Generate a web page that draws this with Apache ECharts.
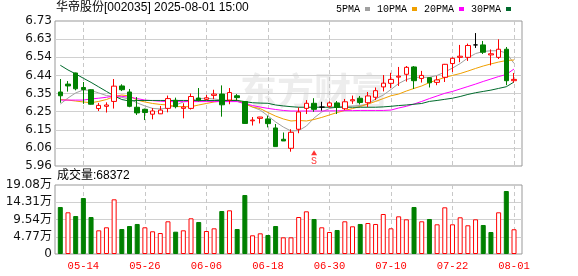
<!DOCTYPE html>
<html>
<head>
<meta charset="utf-8">
<script src="https://cdn.jsdelivr.net/npm/echarts@6/dist/echarts.min.js"></script>
<style>html,body{margin:0;padding:0;background:#fff}#c{width:578px;height:276px}</style>
</head>
<body>
<div id="c"></div>
<script>
const dates = ['05-09','05-12','05-13','05-14','05-15','05-16','05-19','05-20','05-21','05-22','05-23','05-26','05-27','05-28','05-29','05-30','06-03','06-04','06-05','06-06','06-09','06-10','06-11','06-12','06-13','06-16','06-17','06-18','06-19','06-20','06-23','06-24','06-25','06-26','06-27','06-30','07-01','07-02','07-03','07-04','07-07','07-08','07-09','07-10','07-11','07-14','07-15','07-16','07-17','07-18','07-21','07-22','07-23','07-24','07-25','07-28','07-29','07-30','07-31','08-01'];
const openP  = [6.353,6.395,6.454,6.377,6.365,6.265,6.277,6.303,6.385,6.353,6.272,6.261,6.235,6.237,6.266,6.309,6.266,6.266,6.321,6.314,6.335,6.342,6.310,6.333,6.302,6.200,6.213,6.210,6.162,6.102,6.054,6.155,6.266,6.293,6.273,6.277,6.295,6.264,6.306,6.320,6.296,6.325,6.380,6.399,6.432,6.447,6.486,6.425,6.429,6.404,6.431,6.504,6.537,6.537,6.603,6.603,6.550,6.537,6.580,6.413];
const closeP = [6.333,6.385,6.370,6.366,6.288,6.282,6.284,6.384,6.365,6.277,6.242,6.244,6.252,6.257,6.318,6.275,6.273,6.329,6.307,6.322,6.342,6.285,6.350,6.323,6.186,6.204,6.220,6.185,6.063,6.093,6.139,6.247,6.293,6.261,6.273,6.295,6.271,6.301,6.312,6.297,6.332,6.360,6.400,6.420,6.437,6.484,6.413,6.441,6.402,6.417,6.500,6.532,6.543,6.600,6.603,6.564,6.556,6.580,6.413,6.420];
const lowP   = [6.296,6.355,6.362,6.290,6.286,6.252,6.244,6.265,6.358,6.272,6.231,6.204,6.208,6.236,6.245,6.266,6.213,6.260,6.303,6.310,6.315,6.222,6.288,6.310,6.183,6.175,6.186,6.165,6.063,6.093,6.036,6.134,6.236,6.248,6.254,6.270,6.236,6.257,6.290,6.287,6.273,6.310,6.356,6.373,6.385,6.408,6.369,6.403,6.377,6.389,6.406,6.459,6.511,6.518,6.587,6.555,6.494,6.528,6.389,6.403];
const highP  = [6.422,6.411,6.456,6.406,6.367,6.295,6.298,6.422,6.394,6.369,6.326,6.265,6.268,6.279,6.334,6.323,6.293,6.345,6.374,6.337,6.365,6.388,6.374,6.342,6.305,6.220,6.221,6.226,6.183,6.138,6.155,6.271,6.310,6.320,6.301,6.303,6.305,6.316,6.334,6.332,6.353,6.377,6.443,6.455,6.486,6.491,6.491,6.465,6.431,6.438,6.502,6.537,6.603,6.610,6.666,6.624,6.579,6.633,6.592,6.454];
const volumes = [130000,115300,105000,154800,102300,65500,73800,151200,69100,77400,83000,73800,62800,58000,90400,61700,65500,98700,88500,63600,71000,118900,120800,69100,163100,51700,57200,52500,77400,46100,46100,102300,118000,96800,73800,60800,66400,90400,76600,83000,85700,83000,110600,71000,104200,95900,130000,90400,96800,82100,129100,82100,101500,79400,95900,80200,60800,115300,174200,68372];
const volUp = [0,1,0,0,0,1,1,1,0,0,0,1,1,1,1,0,1,1,0,1,1,0,1,0,0,1,1,0,0,1,1,1,1,0,1,1,0,1,1,0,1,1,1,1,1,1,0,1,0,1,1,1,1,1,1,0,0,1,0,1];
const ma5  = [6.289,6.321,6.348,6.364,6.361,6.348,6.334,6.329,6.324,6.316,6.295,6.279,6.266,6.263,6.268,6.284,6.300,6.310,6.318,6.320,6.316,6.310,6.308,6.305,6.289,6.273,6.257,6.226,6.194,6.167,6.146,6.148,6.172,6.215,6.247,6.265,6.273,6.276,6.279,6.281,6.289,6.316,6.337,6.366,6.398,6.419,6.431,6.431,6.431,6.441,6.459,6.480,6.504,6.534,6.557,6.568,6.572,6.572,6.560,6.505];
const ma10 = [6.313,6.310,6.305,6.300,6.296,6.303,6.313,6.329,6.337,6.332,6.310,6.300,6.292,6.287,6.284,6.276,6.275,6.275,6.284,6.292,6.300,6.305,6.308,6.310,6.292,6.273,6.265,6.244,6.225,6.210,6.199,6.202,6.199,6.207,6.218,6.231,6.244,6.255,6.265,6.276,6.289,6.303,6.318,6.333,6.342,6.358,6.372,6.385,6.403,6.417,6.430,6.441,6.451,6.464,6.478,6.491,6.502,6.512,6.520,6.523];
const ma20 = [6.310,6.310,6.310,6.310,6.316,6.320,6.325,6.332,6.330,6.325,6.318,6.310,6.307,6.304,6.302,6.302,6.302,6.302,6.302,6.302,6.302,6.302,6.302,6.302,6.292,6.281,6.273,6.266,6.260,6.255,6.252,6.252,6.252,6.252,6.252,6.253,6.253,6.254,6.254,6.255,6.255,6.255,6.255,6.257,6.268,6.277,6.289,6.303,6.318,6.332,6.346,6.356,6.369,6.382,6.395,6.409,6.422,6.435,6.446,6.475];
const ma30 = [6.495,6.470,6.449,6.426,6.404,6.380,6.356,6.332,6.313,6.305,6.308,6.308,6.308,6.308,6.308,6.308,6.308,6.308,6.308,6.308,6.308,6.308,6.308,6.308,6.302,6.296,6.294,6.293,6.284,6.279,6.275,6.272,6.272,6.272,6.272,6.272,6.272,6.272,6.272,6.272,6.272,6.272,6.274,6.277,6.281,6.284,6.288,6.292,6.303,6.308,6.314,6.320,6.329,6.340,6.349,6.356,6.363,6.372,6.381,6.406];
const priceTickLabels = ['5.96','6.06','6.15','6.25','6.35','6.44','6.54','6.63','6.73'];
const volTickLabels = ['0','4.77万','9.54万','14.31万','19.08万'];
const dateTickLabels = ['05-14','05-26','06-06','06-18','06-30','07-10','07-22','08-01'];
const maNames = ['5PMA','10PMA','20PMA','30PMA'];
const maColors = ['#a0a0a0','#f0a000','#ff00ff','#006a2c'];
const signalDate = '06-26';
const signalPrice = 6.03;
const titleText = '华帝股份[002035] 2025-08-01 15:00';
const volText = '成交量:68372';

const RED = '#ff0000', GREEN = '#008000';
const candleData = dates.map((d, i) => {
  const v = [openP[i], closeP[i], lowP[i], highP[i]];
  if (openP[i] === closeP[i]) {
    return { value: v, itemStyle: { color: '#000', color0: '#000', borderColor: '#000', borderColor0: '#000' } };
  }
  return v;
});
const volData = volumes.map((v, i) => ({
  value: v,
  itemStyle: volUp[i] ? { color: '#fff', borderColor: RED, borderWidth: 1 } : { color: GREEN, borderColor: GREEN, borderWidth: 1 }
}));
const dateInterval = (idx) => dateTickLabels.indexOf(dates[idx]) >= 0;

const FL = 55, FW = 467;         // frame
const DL = 60.3, DW = 453.7;     // data (first to last candle centre)
const PT = 21, PH = 145, VT = 185, VH = 69;

const chart = echarts.init(document.getElementById('c'), null, { renderer: 'canvas' });
const maSeries = maNames.map((n, k) => ({
  name: n, type: 'line', xAxisIndex: 2, yAxisIndex: 2,
  data: [ma5, ma10, ma20, ma30][k], showSymbol: false, symbol: 'none', smooth: false,
  lineStyle: { width: 1, color: maColors[k] }, itemStyle: { color: maColors[k] },
  clip: false, z: 3, silent: true
}));

chart.setOption({
  animation: false,
  backgroundColor: '#fff',
  textStyle: { fontFamily: 'Liberation Sans, Noto Sans CJK SC, sans-serif' },
  legend: {
    data: maNames.map(n => ({ name: n, icon: 'rect' })),
    right: 67, top: 4, align: 'right', itemWidth: 5, itemHeight: 4, itemGap: 7, padding: 0,
    selectedMode: false,
    textStyle: { fontFamily: 'Liberation Mono, monospace', fontSize: 10, color: '#000' }
  },
  graphic: [
    { type: 'text', left: 56, top: 2, style: { text: titleText, fill: '#000', font: '12px Liberation Sans, Noto Sans CJK SC, sans-serif' } },
    { type: 'text', left: 57, top: 170, style: { text: volText, fill: '#000', font: '12px Liberation Sans, Noto Sans CJK SC, sans-serif' } },
    { type: 'text', left: 240, top: 72, z: -10, silent: true, style: { text: '东方财富', fill: '#ededed', font: 'bold 37px Noto Sans CJK SC, sans-serif' } }
  ],
  grid: [
    { left: FL, top: PT, width: FW, height: PH, show: true, borderColor: '#999', borderWidth: 1, backgroundColor: 'transparent' },
    { left: FL, top: VT, width: FW, height: VH, show: true, borderColor: '#999', borderWidth: 1, backgroundColor: 'transparent' },
    { left: DL, top: PT, width: DW, height: PH },
    { left: DL, top: VT, width: DW, height: VH }
  ],
  xAxis: [
    { gridIndex: 0, type: 'value', min: 0, max: 1, show: false },
    { gridIndex: 1, type: 'value', min: 0, max: 1, show: false },
    { gridIndex: 2, type: 'category', data: dates, boundaryGap: false,
      axisLine: { show: false }, axisTick: { show: false }, axisLabel: { show: false },
      splitLine: { show: true, interval: dateInterval, lineStyle: { color: '#c8c8c8', type: [4, 3], width: 1 } } },
    { gridIndex: 3, type: 'category', data: dates, boundaryGap: false,
      axisLine: { show: false }, axisTick: { show: false },
      axisLabel: { show: true, interval: dateInterval, color: RED, fontSize: 10.5, margin: 7, fontFamily: 'Liberation Mono, monospace' },
      splitLine: { show: true, interval: dateInterval, lineStyle: { color: '#c8c8c8', type: [4, 3], width: 1 } } }
  ],
  yAxis: [
    { gridIndex: 0, type: 'value', min: 0, max: 8, interval: 1,
      axisLine: { show: false }, axisTick: { show: false },
      axisLabel: { margin: 3, color: '#111', fontSize: 12, fontFamily: 'DejaVu Sans, sans-serif', formatter: (v) => priceTickLabels[Math.round(v)] },
      splitLine: { show: true, showMinLine: false, showMaxLine: false, lineStyle: { color: '#d0d0d0', width: 1 } } },
    { gridIndex: 1, type: 'value', min: 0, max: 190800, interval: 47700,
      axisLine: { show: false }, axisTick: { show: false },
      axisLabel: { margin: 3, color: '#111', fontSize: 12, fontFamily: 'DejaVu Sans, Noto Sans CJK SC, sans-serif', formatter: (v) => volTickLabels[Math.round(v / 47700)] },
      splitLine: { show: true, showMinLine: false, showMaxLine: false, lineStyle: { color: '#d0d0d0', width: 1 } } },
    { gridIndex: 2, type: 'value', min: 5.96, max: 6.73, show: false, splitLine: { show: false } },
    { gridIndex: 3, type: 'value', min: 0, max: 190800, show: false, splitLine: { show: false } }
  ],
  series: [
    { name: 'K', type: 'candlestick', xAxisIndex: 2, yAxisIndex: 2, data: candleData, barWidth: 5, clip: false, z: 4, silent: true,
      itemStyle: { color: '#fff', color0: GREEN, borderColor: RED, borderColor0: GREEN, borderWidth: 1 } },
    ...maSeries,
    { name: 'VOL', type: 'bar', xAxisIndex: 3, yAxisIndex: 3, data: volData, barWidth: 5, clip: false, silent: true },
    { name: 'signal', type: 'scatter', xAxisIndex: 2, yAxisIndex: 2, data: [[signalDate, signalPrice]], clip: false, silent: true,
      symbol: 'triangle', symbolSize: [6, 5], itemStyle: { color: RED },
      label: { show: true, formatter: 'S', position: 'bottom', distance: 1, color: RED, fontSize: 10, fontFamily: 'Liberation Mono, monospace' } }
  ]
});
</script>
</body>
</html>
